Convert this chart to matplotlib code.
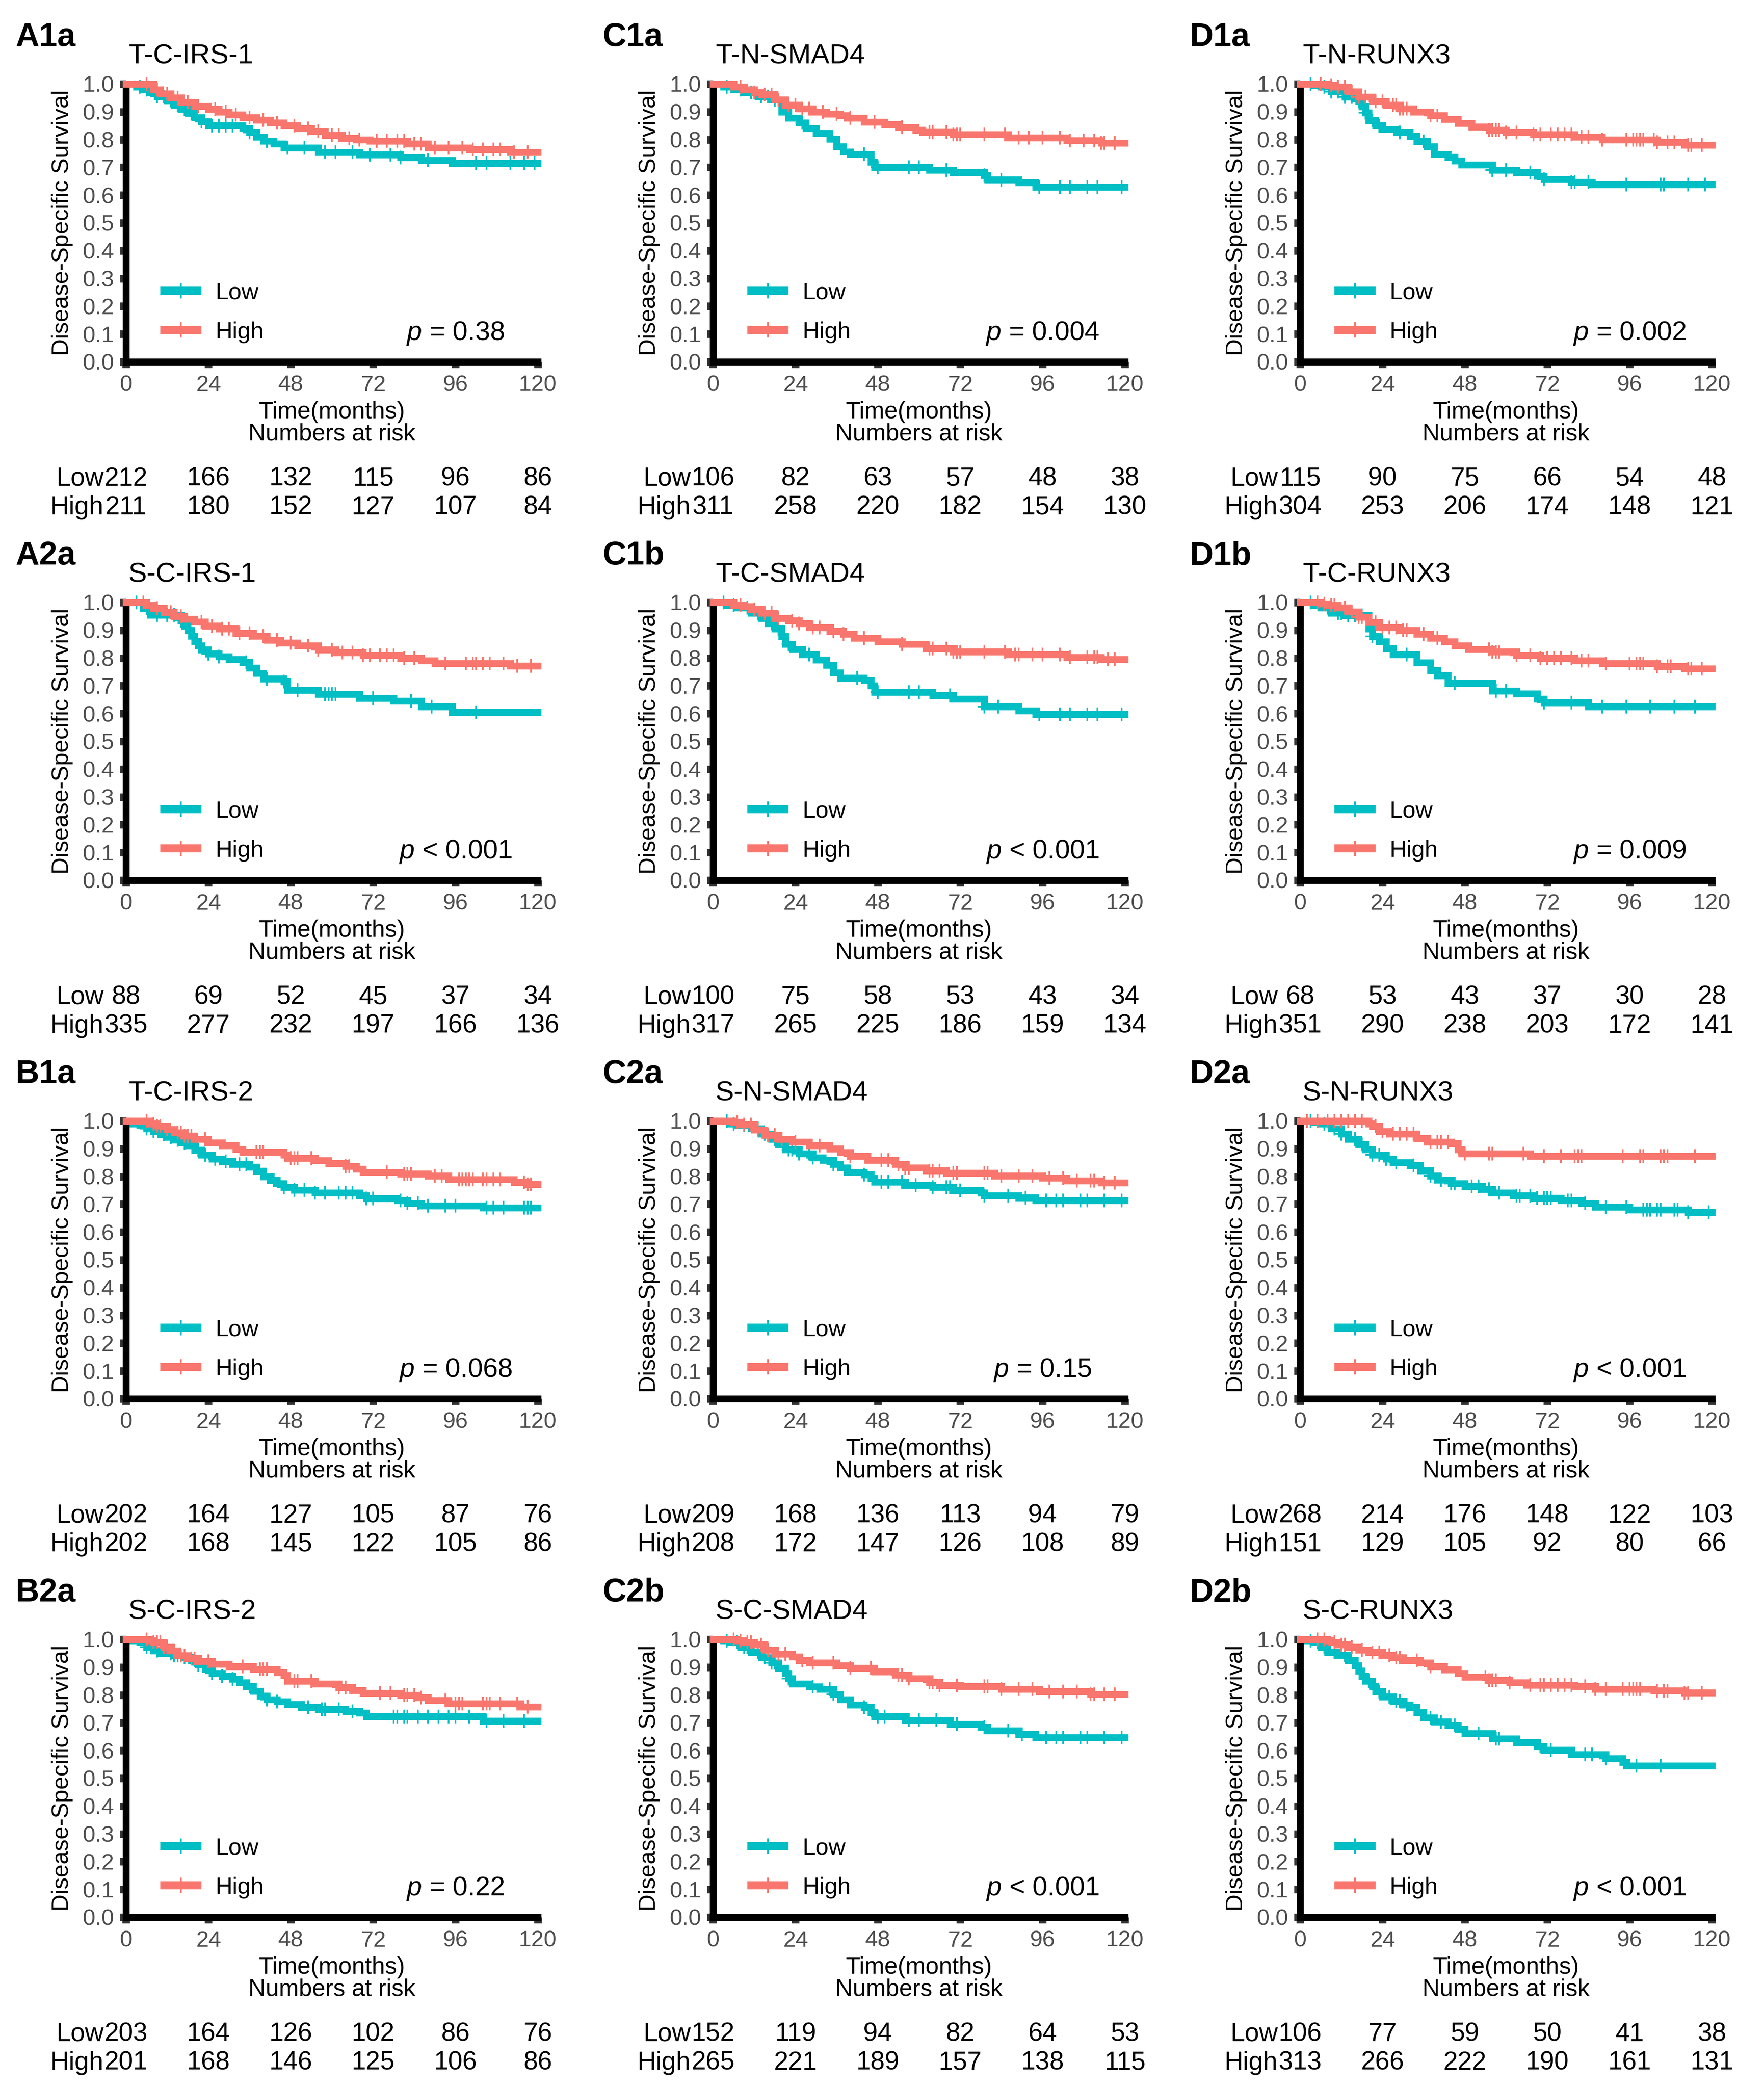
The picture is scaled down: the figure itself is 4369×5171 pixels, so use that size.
import numpy as np
import matplotlib
matplotlib.use('Agg')
import matplotlib.pyplot as plt
from matplotlib.lines import Line2D

plt.rcParams['font.family'] = ['Liberation Sans', 'DejaVu Sans']
plt.rcParams['mathtext.fontset'] = 'custom'
plt.rcParams['mathtext.it'] = 'Liberation Sans:italic'
plt.rcParams['mathtext.rm'] = 'Liberation Sans'

LOW_C = '#00BFC4'
HIGH_C = '#F8766D'
risk_times = [0, 24, 48, 72, 96, 120]

# ---------------- A1a  T-C-IRS-1
a1a_low_t = [0, 3, 5, 7, 9, 12, 14, 16, 18, 20, 22, 24, 34, 36, 38, 40, 43, 46, 56, 68, 80, 86, 95]
a1a_low_s = [1.0, 0.99, 0.98, 0.97, 0.955, 0.94, 0.925, 0.91, 0.895, 0.88, 0.865, 0.85, 0.84, 0.825, 0.81, 0.795, 0.785, 0.77, 0.755, 0.745, 0.735, 0.725, 0.715]
a1a_low_c = [4, 6, 9, 11, 13, 15, 17, 19, 22, 25, 27, 29, 31, 36, 41, 47, 52, 58, 61, 66, 71, 77, 80, 88, 102, 105, 112, 116, 119]
a1a_high_t = [0, 8, 10, 13, 16, 20, 24, 27, 30, 34, 38, 42, 46, 50, 54, 58, 63, 67, 71, 82, 88, 100, 112]
a1a_high_s = [1.0, 0.98, 0.965, 0.95, 0.935, 0.92, 0.91, 0.9, 0.89, 0.88, 0.87, 0.86, 0.85, 0.84, 0.83, 0.815, 0.805, 0.8, 0.795, 0.785, 0.77, 0.765, 0.755]
a1a_high_c = [6, 9, 12, 15, 18, 21, 26, 29, 32, 36, 40, 44, 49, 53, 56, 60, 62, 65, 68, 73, 76, 79, 81, 84, 86, 90, 94, 98, 101, 104, 107, 109, 113, 117]
a1a_risk_low = [212, 166, 132, 115, 96, 86]
a1a_risk_high = [211, 180, 152, 127, 107, 84]

# ---------------- A2a  S-C-IRS-1
a2a_low_t = [0, 5, 7, 16, 17, 18, 19, 20, 21, 22, 24, 27, 30, 34, 36, 38, 40, 46, 47, 56, 68, 78, 86, 95]
a2a_low_s = [1.0, 0.98, 0.955, 0.935, 0.915, 0.9, 0.88, 0.86, 0.845, 0.83, 0.815, 0.805, 0.795, 0.785, 0.765, 0.745, 0.725, 0.715, 0.685, 0.67, 0.655, 0.645, 0.625, 0.605]
a2a_low_c = [3, 6, 9, 12, 14, 16, 24, 27, 35, 41, 46, 50, 58, 59, 60, 61, 72, 83, 89, 102]
a2a_high_t = [0, 6, 8, 11, 14, 17, 20, 23, 27, 32, 37, 41, 45, 50, 56, 61, 69, 80, 86, 90, 112]
a2a_high_s = [1.0, 0.99, 0.98, 0.965, 0.95, 0.94, 0.93, 0.915, 0.905, 0.89, 0.88, 0.865, 0.855, 0.845, 0.83, 0.82, 0.81, 0.8, 0.79, 0.78, 0.772]
a2a_high_c = [5, 9, 13, 16, 22, 25, 28, 30, 33, 36, 40, 44, 48, 53, 56, 60, 63, 66, 69, 71, 74, 76, 78, 81, 84, 93, 99, 101, 102, 104, 106, 110, 114, 118]
a2a_risk_low = [88, 69, 52, 45, 37, 34]
a2a_risk_high = [335, 277, 232, 197, 166, 136]

# ---------------- B1a  T-C-IRS-2
b1a_low_t = [0, 2, 4, 6, 8, 10, 12, 14, 16, 18, 20, 22, 25, 28, 31, 36, 38, 40, 42, 44, 46, 49, 55, 68, 70, 79, 82, 86, 104]
b1a_low_s = [1.0, 0.99, 0.985, 0.973, 0.962, 0.952, 0.942, 0.932, 0.922, 0.912, 0.895, 0.878, 0.864, 0.854, 0.844, 0.835, 0.82, 0.8, 0.787, 0.775, 0.762, 0.752, 0.741, 0.731, 0.721, 0.714, 0.704, 0.695, 0.687]
b1a_low_c = [6, 8, 11, 13, 15, 17, 21, 23, 26, 29, 33, 35, 43, 46, 49, 52, 55, 58, 62, 64, 66, 70, 72, 80, 82, 85, 88, 93, 96, 105, 107, 110, 116, 117, 118]
b1a_high_t = [0, 7, 9, 12, 14, 17, 20, 24, 28, 32, 34, 46, 47, 55, 59, 64, 67, 69, 80, 88, 94, 113, 117]
b1a_high_s = [1.0, 0.99, 0.982, 0.97, 0.958, 0.946, 0.935, 0.922, 0.912, 0.898, 0.888, 0.878, 0.867, 0.857, 0.847, 0.837, 0.827, 0.816, 0.81, 0.803, 0.789, 0.779, 0.772]
b1a_high_c = [6, 8, 9, 10, 12, 15, 16, 17, 18, 19, 23, 38, 39, 40, 48, 49, 50, 54, 64, 65, 76, 81, 82, 83, 90, 92, 97, 98, 99, 100, 101, 104, 105, 107, 109, 116, 117, 118]
b1a_risk_low = [202, 164, 127, 105, 87, 76]
b1a_risk_high = [202, 168, 145, 122, 105, 86]

# ---------------- B2a  S-C-IRS-2
b2a_low_t = [0, 2, 4, 6, 8, 10, 14, 17, 19, 21, 23, 25, 28, 31, 33, 35, 37, 39, 41, 44, 47, 51, 56, 64, 68, 70, 104]
b2a_low_s = [1.0, 0.995, 0.99, 0.973, 0.96, 0.949, 0.942, 0.936, 0.925, 0.908, 0.892, 0.878, 0.868, 0.858, 0.844, 0.831, 0.814, 0.797, 0.783, 0.776, 0.766, 0.756, 0.749, 0.742, 0.736, 0.722, 0.706]
b2a_low_c = [6, 9, 13, 14, 15, 17, 20, 21, 25, 28, 31, 36, 41, 44, 53, 57, 58, 62, 66, 78, 79, 81, 82, 85, 88, 91, 94, 96, 100, 105, 110, 116]
b2a_high_t = [0, 7, 8, 11, 13, 15, 18, 21, 25, 30, 37, 44, 46, 47, 55, 62, 66, 69, 80, 85, 88, 94, 115]
b2a_high_s = [1.0, 0.995, 0.99, 0.973, 0.959, 0.942, 0.932, 0.922, 0.912, 0.902, 0.892, 0.881, 0.871, 0.85, 0.84, 0.827, 0.817, 0.807, 0.8, 0.79, 0.78, 0.769, 0.757]
b2a_high_c = [6, 8, 9, 10, 11, 12, 14, 16, 17, 19, 20, 24, 34, 39, 40, 41, 49, 50, 54, 62, 64, 74, 77, 81, 82, 84, 86, 93, 96, 97, 98, 104, 105, 106, 109, 114, 117]
b2a_risk_low = [203, 164, 126, 102, 86, 76]
b2a_risk_high = [201, 168, 146, 125, 106, 86]

# ---------------- C1a  T-N-SMAD4
c1a_low_t = [0, 3, 6, 9, 13, 17, 20, 22, 25, 27, 30, 34, 36, 38, 40, 46, 47, 63, 70, 79, 80, 89, 94]
c1a_low_s = [1.0, 0.99, 0.98, 0.97, 0.955, 0.944, 0.9, 0.878, 0.86, 0.84, 0.822, 0.803, 0.775, 0.756, 0.747, 0.72, 0.7, 0.69, 0.681, 0.672, 0.655, 0.645, 0.63]
c1a_low_c = [4, 8, 11, 14, 16, 18, 19, 26, 44, 48, 57, 60, 68, 79, 84, 95, 101, 104, 109, 112, 119]
c1a_high_t = [0, 6, 9, 12, 14, 18, 21, 25, 29, 33, 37, 39, 44, 50, 54, 59, 61, 70, 86, 103, 113]
c1a_high_s = [1.0, 0.99, 0.98, 0.97, 0.962, 0.944, 0.925, 0.912, 0.9, 0.893, 0.887, 0.878, 0.863, 0.854, 0.844, 0.835, 0.827, 0.818, 0.807, 0.797, 0.788]
c1a_high_c = [8, 12, 15, 17, 19, 22, 24, 26, 28, 32, 36, 40, 47, 55, 63, 64, 68, 70, 71, 72, 79, 85, 89, 92, 96, 101, 104, 108, 111, 113, 114, 117]
c1a_risk_low = [106, 82, 63, 57, 48, 38]
c1a_risk_high = [311, 258, 220, 182, 154, 130]

# ---------------- C1b  T-C-SMAD4
c1b_low_t = [0, 4, 7, 11, 14, 16, 18, 20, 21, 23, 26, 30, 33, 35, 37, 44, 46, 47, 64, 70, 79, 89, 94]
c1b_low_s = [1.0, 0.99, 0.981, 0.962, 0.944, 0.925, 0.906, 0.878, 0.85, 0.831, 0.812, 0.794, 0.775, 0.747, 0.728, 0.719, 0.7, 0.678, 0.666, 0.653, 0.625, 0.61, 0.598]
c1b_low_c = [3, 6, 10, 13, 17, 19, 22, 28, 42, 48, 57, 60, 69, 79, 83, 95, 101, 104, 109, 112, 119]
c1b_high_t = [0, 6, 9, 11, 14, 18, 22, 25, 28, 34, 38, 41, 48, 55, 62, 70, 86, 103, 113]
c1b_high_s = [1.0, 0.99, 0.985, 0.975, 0.962, 0.944, 0.934, 0.925, 0.91, 0.897, 0.887, 0.872, 0.859, 0.85, 0.835, 0.822, 0.812, 0.803, 0.795]
c1b_high_c = [8, 12, 15, 17, 19, 23, 25, 29, 31, 35, 38, 44, 55, 63, 64, 68, 70, 71, 72, 79, 85, 88, 89, 93, 96, 101, 104, 109, 111, 112, 115, 117]
c1b_risk_low = [100, 75, 58, 53, 43, 34]
c1b_risk_high = [317, 265, 225, 186, 159, 134]

# ---------------- C2a  S-N-SMAD4
c2a_low_t = [0, 5, 7, 11, 14, 17, 19, 21, 25, 29, 32, 35, 37, 39, 44, 46, 47, 56, 64, 70, 78, 79, 89, 94]
c2a_low_s = [1.0, 0.99, 0.985, 0.972, 0.953, 0.934, 0.915, 0.897, 0.882, 0.868, 0.859, 0.844, 0.831, 0.816, 0.806, 0.793, 0.78, 0.769, 0.761, 0.75, 0.742, 0.731, 0.724, 0.714]
c2a_low_c = [4, 6, 9, 13, 15, 18, 22, 23, 25, 28, 29, 35, 44, 49, 51, 55, 59, 64, 68, 69, 72, 79, 86, 91, 97, 100, 102, 107, 109, 114, 119]
c2a_high_t = [0, 6, 8, 12, 15, 19, 23, 28, 34, 37, 40, 45, 53, 56, 62, 68, 82, 96, 103, 113]
c2a_high_s = [1.0, 0.995, 0.987, 0.968, 0.949, 0.934, 0.925, 0.912, 0.9, 0.887, 0.874, 0.859, 0.844, 0.831, 0.821, 0.812, 0.803, 0.795, 0.785, 0.777]
c2a_high_c = [7, 9, 11, 13, 16, 18, 20, 24, 31, 40, 49, 51, 54, 56, 57, 63, 64, 66, 70, 71, 79, 80, 84, 89, 93, 98, 102, 106, 110, 111, 114, 117]
c2a_risk_low = [209, 168, 136, 113, 94, 79]
c2a_risk_high = [208, 172, 147, 126, 108, 89]

# ---------------- C2b  S-C-SMAD4
c2b_low_t = [0, 3, 5, 8, 11, 14, 17, 19, 21, 22, 23, 28, 31, 35, 37, 40, 44, 46, 47, 56, 69, 78, 80, 89, 94]
c2b_low_s = [1.0, 0.995, 0.99, 0.972, 0.953, 0.934, 0.915, 0.897, 0.878, 0.859, 0.84, 0.83, 0.821, 0.803, 0.784, 0.765, 0.756, 0.737, 0.722, 0.709, 0.695, 0.684, 0.671, 0.658, 0.647]
c2b_low_c = [4, 7, 9, 10, 13, 15, 17, 18, 22, 29, 34, 35, 44, 48, 50, 57, 60, 65, 71, 79, 86, 90, 97, 100, 102, 107, 109, 114, 119]
c2b_high_t = [0, 7, 9, 12, 15, 18, 23, 25, 28, 36, 40, 47, 53, 57, 63, 66, 72, 84, 95, 110]
c2b_high_s = [1.0, 0.995, 0.99, 0.981, 0.962, 0.947, 0.938, 0.925, 0.915, 0.906, 0.897, 0.883, 0.872, 0.859, 0.846, 0.835, 0.831, 0.821, 0.812, 0.803]
c2b_high_c = [6, 8, 10, 11, 14, 16, 19, 21, 26, 29, 35, 40, 46, 54, 55, 57, 63, 64, 66, 71, 79, 80, 84, 89, 93, 98, 102, 106, 110, 111, 114, 117]
c2b_risk_low = [152, 119, 94, 82, 64, 53]
c2b_risk_high = [265, 221, 189, 157, 138, 115]

# ---------------- D1a  T-N-RUNX3
d1a_low_t = [0, 4, 6, 9, 13, 17, 18, 19, 20, 22, 24, 28, 32, 34, 37, 39, 43, 45, 47, 56, 63, 69, 71, 79, 85]
d1a_low_s = [1.0, 0.995, 0.99, 0.972, 0.953, 0.938, 0.919, 0.897, 0.869, 0.85, 0.837, 0.826, 0.812, 0.794, 0.775, 0.747, 0.737, 0.724, 0.709, 0.69, 0.681, 0.668, 0.657, 0.647, 0.638]
d1a_low_c = [3, 7, 9, 11, 13, 15, 17, 19, 21, 23, 29, 36, 56, 60, 67, 71, 79, 80, 84, 95, 105, 106, 113, 118]
d1a_high_t = [0, 8, 10, 14, 17, 21, 25, 29, 33, 38, 42, 46, 50, 55, 60, 68, 80, 88, 104, 112]
d1a_high_s = [1.0, 0.995, 0.99, 0.972, 0.953, 0.938, 0.925, 0.912, 0.9, 0.887, 0.874, 0.859, 0.846, 0.835, 0.826, 0.818, 0.809, 0.8, 0.79, 0.78]
d1a_high_c = [6, 9, 11, 13, 15, 17, 19, 22, 24, 27, 28, 29, 30, 31, 38, 40, 55, 56, 57, 58, 60, 63, 68, 70, 73, 75, 77, 79, 82, 84, 88, 95, 97, 98, 99, 100, 103, 104, 107, 109, 113, 114, 117]
d1a_risk_low = [115, 90, 75, 66, 54, 48]
d1a_risk_high = [304, 253, 206, 174, 148, 121]

# ---------------- D1b  T-C-RUNX3
d1b_low_t = [0, 4, 6, 9, 13, 20, 21, 23, 25, 27, 34, 38, 40, 43, 56, 63, 69, 71, 84]
d1b_low_s = [1.0, 0.99, 0.981, 0.962, 0.953, 0.906, 0.878, 0.859, 0.835, 0.812, 0.784, 0.756, 0.737, 0.709, 0.681, 0.672, 0.653, 0.64, 0.625]
d1b_low_c = [3, 8, 11, 12, 14, 16, 18, 21, 31, 45, 57, 60, 71, 79, 88, 95, 102, 109, 115]
d1b_high_t = [0, 6, 8, 11, 14, 17, 20, 23, 29, 34, 38, 42, 45, 49, 56, 63, 70, 80, 88, 104, 112]
d1b_high_s = [1.0, 0.995, 0.99, 0.981, 0.966, 0.947, 0.929, 0.91, 0.9, 0.887, 0.872, 0.859, 0.844, 0.831, 0.822, 0.809, 0.8, 0.79, 0.78, 0.771, 0.762]
d1b_high_c = [5, 7, 9, 10, 13, 15, 17, 18, 22, 24, 26, 28, 30, 31, 36, 40, 55, 56, 57, 58, 63, 67, 70, 72, 74, 76, 79, 82, 84, 89, 96, 98, 99, 100, 104, 107, 108, 113, 114, 117]
d1b_risk_low = [68, 53, 43, 37, 30, 28]
d1b_risk_high = [351, 290, 238, 203, 172, 141]

# ---------------- D2a  S-N-RUNX3
d2a_low_t = [0, 4, 6, 9, 12, 14, 17, 19, 21, 25, 27, 32, 35, 38, 40, 44, 48, 53, 56, 62, 68, 76, 82, 86, 96, 113]
d2a_low_s = [1.0, 0.995, 0.99, 0.972, 0.953, 0.934, 0.915, 0.897, 0.878, 0.863, 0.85, 0.84, 0.821, 0.803, 0.788, 0.774, 0.765, 0.754, 0.742, 0.731, 0.722, 0.714, 0.703, 0.69, 0.68, 0.671]
d2a_low_c = [3, 7, 10, 12, 16, 18, 21, 23, 25, 28, 33, 38, 41, 44, 45, 50, 52, 55, 58, 63, 64, 67, 69, 71, 72, 73, 78, 79, 83, 89, 95, 100, 101, 102, 104, 105, 109, 110, 113, 119]
d2a_high_t = [0, 20, 21, 23, 26, 34, 37, 44, 46, 47, 67]
d2a_high_s = [1.0, 0.99, 0.981, 0.962, 0.953, 0.938, 0.925, 0.919, 0.897, 0.882, 0.874]
d2a_high_c = [2, 5, 8, 10, 12, 14, 16, 18, 22, 24, 27, 29, 31, 33, 38, 40, 41, 43, 48, 55, 56, 65, 71, 76, 80, 81, 82, 94, 99, 100, 105, 106, 107, 115]
d2a_risk_low = [268, 214, 176, 148, 122, 103]
d2a_risk_high = [151, 129, 105, 92, 80, 66]

# ---------------- D2b  S-C-RUNX3
d2b_low_t = [0, 2, 4, 6, 8, 11, 14, 16, 17, 18, 19, 21, 22, 24, 27, 30, 32, 34, 36, 39, 43, 46, 48, 56, 63, 69, 71, 79, 89, 94, 95]
d2b_low_s = [1.0, 0.995, 0.99, 0.972, 0.953, 0.944, 0.925, 0.906, 0.887, 0.868, 0.85, 0.831, 0.812, 0.793, 0.778, 0.765, 0.756, 0.737, 0.718, 0.703, 0.69, 0.677, 0.662, 0.643, 0.63, 0.615, 0.602, 0.586, 0.571, 0.558, 0.545]
d2b_low_c = [3, 5, 7, 10, 13, 20, 23, 26, 28, 29, 31, 38, 41, 45, 52, 57, 58, 70, 73, 83, 85, 89, 98, 105]
d2b_high_t = [0, 8, 9, 11, 14, 17, 20, 24, 27, 30, 35, 38, 42, 46, 48, 55, 61, 66, 80, 86, 103, 112]
d2b_high_s = [1.0, 0.995, 0.99, 0.981, 0.972, 0.962, 0.953, 0.944, 0.934, 0.925, 0.915, 0.902, 0.891, 0.878, 0.865, 0.853, 0.844, 0.836, 0.831, 0.821, 0.816, 0.808]
d2b_high_c = [5, 7, 10, 12, 13, 15, 18, 21, 23, 26, 28, 29, 34, 38, 54, 55, 56, 57, 61, 67, 70, 71, 73, 75, 77, 79, 83, 86, 89, 94, 96, 97, 98, 99, 104, 106, 107, 112, 113, 117]
d2b_risk_low = [106, 77, 59, 50, 41, 38]
d2b_risk_high = [313, 266, 222, 190, 161, 131]

tags = ['A1a', 'A2a', 'B1a', 'B2a', 'C1a', 'C1b', 'C2a', 'C2b', 'D1a', 'D1b', 'D2a', 'D2b']
titles = ['T-C-IRS-1', 'S-C-IRS-1', 'T-C-IRS-2', 'S-C-IRS-2',
          'T-N-SMAD4', 'T-C-SMAD4', 'S-N-SMAD4', 'S-C-SMAD4',
          'T-N-RUNX3', 'T-C-RUNX3', 'S-N-RUNX3', 'S-C-RUNX3']
pvals = ['= 0.38', '< 0.001', '= 0.068', '= 0.22',
         '= 0.004', '< 0.001', '= 0.15', '< 0.001',
         '= 0.002', '= 0.009', '< 0.001', '< 0.001']

g = globals()
panels = []
for tag, title, pv in zip(tags, titles, pvals):
    k = tag.lower()
    panels.append(dict(tag=tag, title=title, p=pv,
                       low=(g[k + '_low_t'], g[k + '_low_s'], g[k + '_low_c']),
                       high=(g[k + '_high_t'], g[k + '_high_s'], g[k + '_high_c']),
                       risk_low=g[k + '_risk_low'], risk_high=g[k + '_risk_high']))


def km(ax, t, s, c, color):
    t = np.asarray(t, float)
    s = np.asarray(s, float)
    ax.step(np.append(t, 120), np.append(s, s[-1]), where='post',
            color=color, lw=4.1, solid_joinstyle='miter', clip_on=False, zorder=3)
    c = np.asarray(c, float)
    cy = s[np.searchsorted(t, c, side='right') - 1]
    ax.plot(c, cy, ls='none', marker='+', ms=8, mew=1.0, color=color,
            clip_on=False, zorder=3)


W, H = 4369, 5171
fig = plt.figure(figsize=(W / 300, H / 300), dpi=300)
AX_W, AX_H = 1020, 688

for i, p in enumerate(panels):
    col, row = i // 4, i % 4
    left = 312 + col * 1454
    top = 208 + row * 1284
    ax = fig.add_axes([left / W, 1 - (top + AX_H) / H, AX_W / W, AX_H / H])

    km(ax, *p['low'], LOW_C)
    km(ax, *p['high'], HIGH_C)

    ax.set_xlim(0, 120)
    ax.set_ylim(0, 1)
    ax.set_xticks(risk_times)
    ax.set_yticks(np.arange(0, 11) / 10)
    ax.set_yticklabels(['%.1f' % v for v in np.arange(0, 11) / 10])
    for side in ['top', 'right']:
        ax.spines[side].set_visible(False)
    for side in ['left', 'bottom']:
        ax.spines[side].set_linewidth(4.1)
        ax.spines[side].set_color('black')
        ax.spines[side].set_capstyle('projecting')
    ax.tick_params(length=3.7, width=4.5, color='#333333', labelcolor='#4D4D4D',
                   labelsize=13.5)
    ax.tick_params(axis='x', pad=4.2)
    ax.tick_params(axis='y', pad=3.2)

    ax.text(-0.268, 1.136, p['tag'], transform=ax.transAxes, fontsize=19.5,
            fontweight='bold', ha='left', va='baseline')
    ax.text(0.006, 1.073, p['title'], transform=ax.transAxes, fontsize=16.5,
            ha='left', va='baseline')
    ax.text(-0.155, 0.5, 'Disease-Specific Survival', transform=ax.transAxes,
            rotation=90, fontsize=14, ha='center', va='center')
    ax.text(0.5, -0.203, 'Time(months)', transform=ax.transAxes, fontsize=14.2,
            ha='center', va='baseline')
    ax.text(0.5, -0.283, 'Numbers at risk', transform=ax.transAxes, fontsize=14.2,
            ha='center', va='baseline')

    tr = ax.get_xaxis_transform()
    ax.text(-0.054, -0.446, 'Low', transform=ax.transAxes, fontsize=15.4,
            ha='right', va='baseline')
    ax.text(-0.054, -0.549, 'High', transform=ax.transAxes, fontsize=15.4,
            ha='right', va='baseline')
    for tt, nl, nh in zip(risk_times, p['risk_low'], p['risk_high']):
        ax.text(tt, -0.446, str(nl), transform=tr, fontsize=15.4,
                ha='center', va='baseline', clip_on=False)
        ax.text(tt, -0.549, str(nh), transform=tr, fontsize=15.4,
                ha='center', va='baseline', clip_on=False)

    ax.text(96, 0.078, r'$p$ ' + p['p'], fontsize=16, ha='center', va='baseline')

    handles = [Line2D([], [], color=LOW_C, lw=4.8, marker='|', ms=9, mew=1.0),
               Line2D([], [], color=HIGH_C, lw=4.8, marker='|', ms=9, mew=1.0)]
    ax.legend(handles, ['Low', 'High'], loc='center left',
              bbox_to_anchor=(0.093, 0.1775), frameon=False, fontsize=14,
              handlelength=1.4, handletextpad=0.77, labelspacing=0.75,
              borderpad=0, borderaxespad=0, numpoints=1)

fig.savefig('out.png', dpi=300)
